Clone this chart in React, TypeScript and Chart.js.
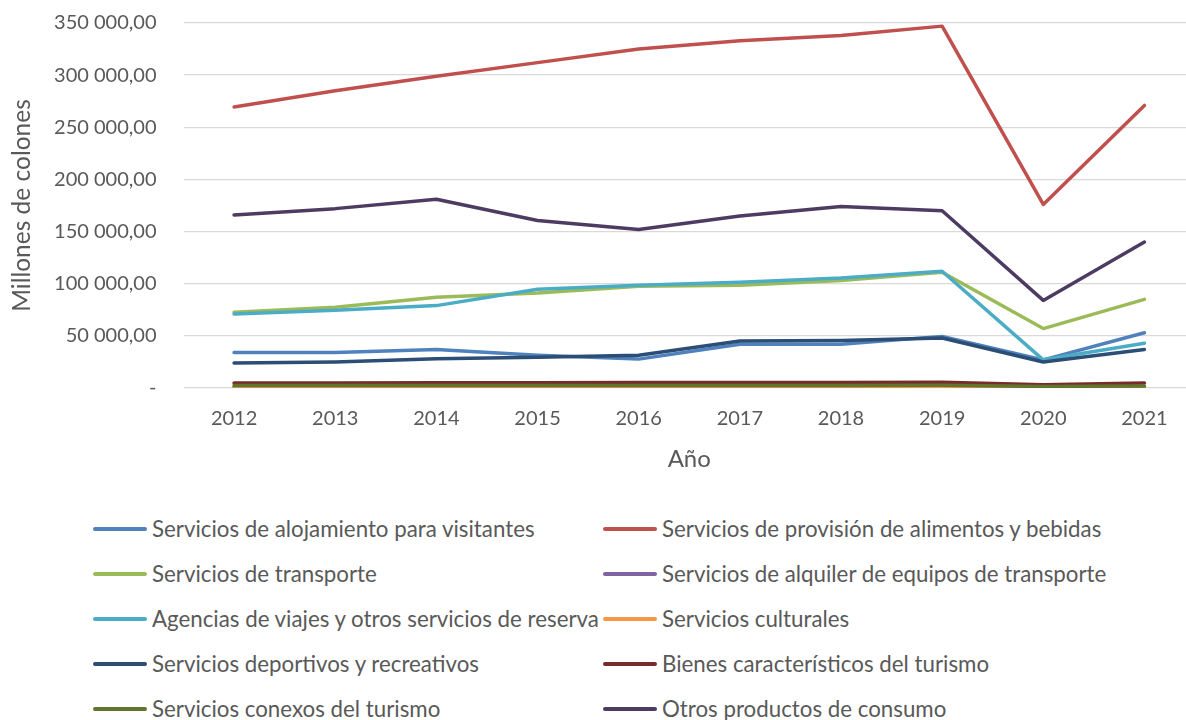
import React, { useEffect, useRef } from "react";
import { Chart, registerables } from "chart.js";

Chart.register(...registerables);

const years = ["2012", "2013", "2014", "2015", "2016", "2017", "2018", "2019", "2020", "2021"];

const alojamiento = [34000, 34000, 37000, 31500, 27700, 42000, 42000, 49500, 27000, 53000];
const alimentos = [269500, 285000, 299000, 312000, 325000, 333000, 338000, 347000, 176000, 271000];
const transporte = [72700, 77500, 87000, 91000, 97500, 98500, 103000, 111000, 57000, 85000];
const alquiler = [900, 950, 1000, 1000, 1050, 1100, 1100, 1150, 600, 900];
const agencias = [71000, 74600, 79000, 94700, 98500, 101500, 105500, 112000, 27000, 43000];
const culturales = [300, 320, 340, 360, 380, 400, 400, 420, 150, 300];
const deportivos = [24000, 25000, 28000, 29600, 31500, 45000, 45500, 48000, 25000, 37000];
const bienes = [4800, 4900, 5000, 5100, 5200, 5300, 5300, 5400, 3200, 4700];
const conexos = [2300, 2300, 2400, 2400, 2500, 2500, 2500, 2600, 1500, 2000];
const otros = [166000, 172000, 181000, 160600, 152000, 165000, 174000, 170000, 84000, 140000];

const seriesNames = [
  "Servicios de alojamiento para visitantes",
  "Servicios de provisión de alimentos y bebidas",
  "Servicios de transporte",
  "Servicios de alquiler de equipos de transporte",
  "Agencias de viajes y otros servicios de reserva",
  "Servicios culturales",
  "Servicios deportivos y recreativos",
  "Bienes característicos del turismo",
  "Servicios conexos del turismo",
  "Otros productos de consumo",
];
const seriesData = [alojamiento, alimentos, transporte, alquiler, agencias, culturales, deportivos, bienes, conexos, otros];
const seriesColors = [
  "#4F81BD", "#C0504D", "#9BBB59", "#8064A2", "#4BACC6",
  "#F79646", "#2C4D75", "#772C2A", "#5F7530", "#4D3B62",
];

const yTicks = [0, 50000, 100000, 150000, 200000, 250000, 300000, 350000];

const FONT = "Lato, 'Open Sans', sans-serif";
const TEXT = "#595959";

function fmt(v: number): string {
  if (v === 0) return "-";
  const s = Math.round(v).toString().replace(/\B(?=(\d{3})+(?!\d))/g, " ");
  return s + ",00";
}

export default function App() {
  const ref = useRef<HTMLCanvasElement>(null);
  useEffect(() => {
    if (!ref.current) return;
    const chart = new Chart(ref.current, {
      type: "line",
      data: {
        labels: years,
        datasets: seriesNames.map((name, i) => ({
          label: name,
          data: seriesData[i],
          borderColor: seriesColors[i],
          backgroundColor: seriesColors[i],
          borderWidth: 3.5,
          pointRadius: 0,
          pointHoverRadius: 0,
          tension: 0,
          fill: false,
          borderCapStyle: "round" as const,
          borderJoinStyle: "round" as const,
          order: seriesNames.length - i,
        })),
      },
      options: {
        animation: false,
        responsive: false,
        maintainAspectRatio: false,
        layout: { padding: { top: 0, right: 1, bottom: 0, left: 0 } },
        plugins: {
          legend: { display: false },
          tooltip: { enabled: false },
        },
        scales: {
          x: {
            type: "category",
            offset: true,
            grid: { display: false, drawTicks: false },
            border: { display: false },
            ticks: {
              color: TEXT,
              font: { family: FONT, size: 20 },
              padding: 19,
              maxRotation: 0,
            },
            title: {
              display: true,
              text: "Año",
              color: TEXT,
              font: { family: FONT, size: 24 },
              padding: { top: 0, bottom: 6 },
            },
            afterFit: (s: any) => {
              s.height = 92;
            },
          },
          y: {
            min: 0,
            max: 350000,
            afterBuildTicks: (s: any) => {
              s.ticks = yTicks.map((v) => ({ value: v }));
            },
            grid: { color: "#D9D9D9", lineWidth: 1.3, drawTicks: false },
            border: { display: false },
            ticks: {
              color: TEXT,
              font: { family: FONT, size: 20 },
              padding: 27,
              callback: (v: any) => fmt(Number(v)),
            },
            title: {
              display: true,
              text: "Millones de colones",
              color: TEXT,
              font: { family: FONT, size: 24.5 },
              padding: { top: 7, bottom: 0 },
            },
            afterFit: (s: any) => {
              s.width = 183.5;
            },
          },
        },
      },
    });
    return () => chart.destroy();
  }, []);

  const rows: number[][] = [];
  for (let i = 0; i < seriesNames.length; i += 2) rows.push([i, i + 1]);

  return (
    <div
      style={{
        position: "absolute",
        left: 0,
        top: 0,
        width: 1186,
        height: 720,
        overflow: "hidden",
        background: "#fff",
        fontFamily: FONT,
      }}
    >
      <canvas ref={ref} width={1196} height={496} style={{ position: "absolute", left: 0, top: -16, width: 1196, height: 496 }} />
      {rows.map((pair, r) =>
        pair.map((idx, c) => (
          <div
            key={idx}
            style={{
              position: "absolute",
              left: c === 0 ? 93 : 603,
              top: 529 + r * 45 - 15,
              height: 30,
              display: "flex",
              alignItems: "center",
              whiteSpace: "nowrap",
            }}
          >
            <span
              style={{
                display: "inline-block",
                width: 54,
                height: 4,
                borderRadius: 2,
                background: seriesColors[idx],
                marginRight: 5,
              }}
            />
            <span style={{ color: TEXT, fontSize: 22.3, lineHeight: "30px" }}>{seriesNames[idx]}</span>
          </div>
        ))
      )}
    </div>
  );
}
